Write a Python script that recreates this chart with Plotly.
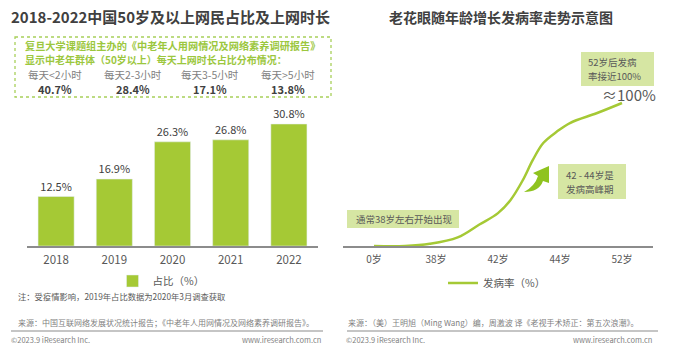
import plotly.graph_objects as go

W, H = 700, 344
FONT = "Noto Sans CJK SC"

# ---------------- data ----------------
years = ["2018", "2019", "2020", "2021", "2022"]
share_pct = [12.5, 16.9, 26.3, 26.8, 30.8]
share_name = "占比（%）"

duration_labels = ["每天<2小时", "每天2-3小时", "每天3-5小时", "每天>5小时"]
duration_pct = ["40.7%", "28.4%", "17.1%", "13.8%"]

age_labels = ["0岁", "38岁", "42岁", "44岁", "52岁"]
# schematic curve samples (position on the age axis, rate %)
curve_pos = [0, 0.5, 0.9, 1.35, 1.7, 2.0, 2.2, 2.4, 2.56, 2.73, 2.95, 3.16, 3.6, 4.0]
curve_rate = [0, 0, 1.5, 6, 15, 23, 32, 46, 60, 72, 80, 86, 93, 100]
curve_name = "发病率（%）"

left_title = "2018-2022中国50岁及以上网民占比及上网时长"
right_title = "老花眼随年龄增长发病率走势示意图"
box_line1 = "复旦大学课题组主办的《中老年人用网情况及网络素养调研报告》"
box_line2 = "显示中老年群体（50岁以上）每天上网时长占比分布情况："
note_text = "注：受疫情影响，2019年占比数据为2020年3月调查获取"
src_left = "来源：中国互联网络发展状况统计报告；《中老年人用网情况及网络素养调研报告》。"
src_right = "来源：（美）王明旭（Ming Wang）编，周激波 译《老视手术矫正：第五次浪潮》。"
copyright_text = "©2023.9 iResearch Inc."
site_text = "www.iresearch.com.cn"
note_start = ["通常38岁左右开始出现"]
note_peak = ["42 - 44岁是", "发病高峰期"]
note_end = ["52岁后发病", "率接近100%"]
approx_text = "≈100%"

GREEN = "#a5c935"
BOXGREEN = "#d6e6a3"
DARK = "#404040"
GRAY = "#595959"
LIGHT = "#7f7f7f"


def px(x):
    return x / W


def py(y):
    return 1 - y / H


fig = go.Figure()

fig.add_trace(go.Bar(
    x=years, y=share_pct, name=share_name,
    marker=dict(color=GREEN),
    text=[f"{v}%" for v in share_pct], textposition="outside",
    textfont=dict(size=11, color=DARK, family=FONT),
    cliponaxis=False, xaxis="x", yaxis="y", legend="legend",
))

fig.add_trace(go.Scatter(
    x=curve_pos, y=curve_rate, name=curve_name, mode="lines",
    line=dict(color=GREEN, width=2.5, shape="spline", smoothing=1.0),
    xaxis="x2", yaxis="y2", legend="legend2",
))

base = (H - 246) / H

fig.update_layout(
    width=W, height=H,
    margin=dict(l=0, r=0, t=0, b=0),
    paper_bgcolor="white", plot_bgcolor="white",
    font=dict(family=FONT, color=GRAY),
    bargap=0.38,
    xaxis=dict(domain=[px(27), px(318)], showline=True, linecolor="#8c8c8c", linewidth=1.5,
               showgrid=False, ticks="", tickfont=dict(size=11.5, color=GRAY, family=FONT),
               ticklabelstandoff=2, fixedrange=True),
    yaxis=dict(domain=[base, py(107.4)], range=[0, 35], visible=False, fixedrange=True),
    xaxis2=dict(domain=[px(343), px(653)], range=[-0.5, 4.5], showline=True,
                linecolor="#8c8c8c", linewidth=1.5, showgrid=False, zeroline=False,
                tickmode="array", tickvals=list(range(len(age_labels))), ticktext=age_labels,
                ticks="", tickfont=dict(size=10, color=GRAY, family=FONT), anchor="y2",
                ticklabelstandoff=3, fixedrange=True),
    yaxis2=dict(domain=[base, py(74.4)], range=[0, 120], visible=False, anchor="x2",
                fixedrange=True),
    legend=dict(x=px(161), y=py(281), xanchor="center", yanchor="middle",
                orientation="h", font=dict(size=10.5, color=GRAY, family=FONT),
                bgcolor="rgba(0,0,0,0)", itemwidth=30),
    legend2=dict(x=px(497), y=py(283), xanchor="center", yanchor="middle",
                 orientation="h", font=dict(size=10.5, color=GRAY, family=FONT),
                 bgcolor="rgba(0,0,0,0)", itemwidth=30),
    showlegend=True,
)

ann = []


def text(x, y, t, size, color=GRAY, bold=False, xanchor="left", yanchor="middle", align="left"):
    if bold:
        t = f"<b>{t}</b>"
    ann.append(dict(x=px(x), y=py(y), xref="paper", yref="paper", text=t, showarrow=False,
                    xanchor=xanchor, yanchor=yanchor, align=align, borderpad=0,
                    font=dict(size=size, color=color, family=FONT)))


# titles
text(10, 17, left_title, 15, color=DARK, bold=True)
text(501, 17, right_title, 14, color=DARK, bold=True, xanchor="center")

# dashed info box
shapes = [dict(type="rect", xref="paper", yref="paper", x0=px(15), x1=px(331), y0=py(37), y1=py(97),
               line=dict(color="#a8d05a", width=1.3, dash="dot"), fillcolor="rgba(0,0,0,0)")]
text(24, 45, box_line1, 10.2, color="#9cc73e", bold=True)
text(24, 60, box_line2, 10, color="#9cc73e", bold=True)
for i, (lab, val) in enumerate(zip(duration_labels, duration_pct)):
    cx = 55 + i * 77.7
    text(cx, 75, lab, 10.5, color=LIGHT, xanchor="center")
    text(cx, 89, val, 11, color=DARK, bold=True, xanchor="center")

# notes and sources
text(17, 296, note_text, 8.3, color=GRAY)
text(17, 322, src_left, 8, color=LIGHT)
text(347, 322, src_right, 8, color=LIGHT)
text(10, 339, copyright_text, 7.5, color=LIGHT)
text(322, 339, site_text, 7.5, color=LIGHT, xanchor="right")
text(345, 339, copyright_text, 7.5, color=LIGHT)
text(653, 339, site_text, 7.5, color=LIGHT, xanchor="right")
shapes.append(dict(type="line", xref="paper", yref="paper", x0=px(11), x1=px(323), y0=py(331), y1=py(331),
                   line=dict(color="#8c8c8c", width=1.2)))
shapes.append(dict(type="line", xref="paper", yref="paper", x0=px(347), x1=px(658), y0=py(331), y1=py(331),
                   line=dict(color="#8c8c8c", width=1.2)))

# right-side callout boxes
for (x0, x1, y0, y1) in [(347, 459, 210, 228), (558, 626, 164, 199), (581, 654, 52, 86)]:
    shapes.append(dict(type="rect", xref="paper", yref="paper", x0=px(x0), x1=px(x1), y0=py(y0), y1=py(y1),
                       line=dict(width=0), fillcolor=BOXGREEN, layer="below"))
text(355, 219, note_start[0], 9.5, color=GRAY)
text(565, 174.5, note_peak[0], 9.5, color=GRAY)
text(565, 188.5, note_peak[1], 9.5, color=GRAY)
text(587, 62, note_end[0], 9.5, color=GRAY)
text(587, 76, note_end[1], 9.5, color=GRAY)
text(657, 94, approx_text, 15, color=GRAY, xanchor="right")

# curved arrow
p = lambda x, y: f"{px(x):.5f},{py(y):.5f}"
arrow_path = ("M " + p(524, 192) + " Q " + p(539, 192) + " " + p(543, 181) +
              " L " + p(549, 183) + " L " + p(549, 166) + " L " + p(533, 173) +
              " L " + p(538, 176) + " Q " + p(535, 186) + " " + p(524, 192) + " Z")
shapes.append(dict(type="path", xref="paper", yref="paper", path=arrow_path,
                   fillcolor="#8fc31f", line=dict(width=0)))

fig.update_layout(annotations=ann, shapes=shapes)

fig.write_html("out.html")
